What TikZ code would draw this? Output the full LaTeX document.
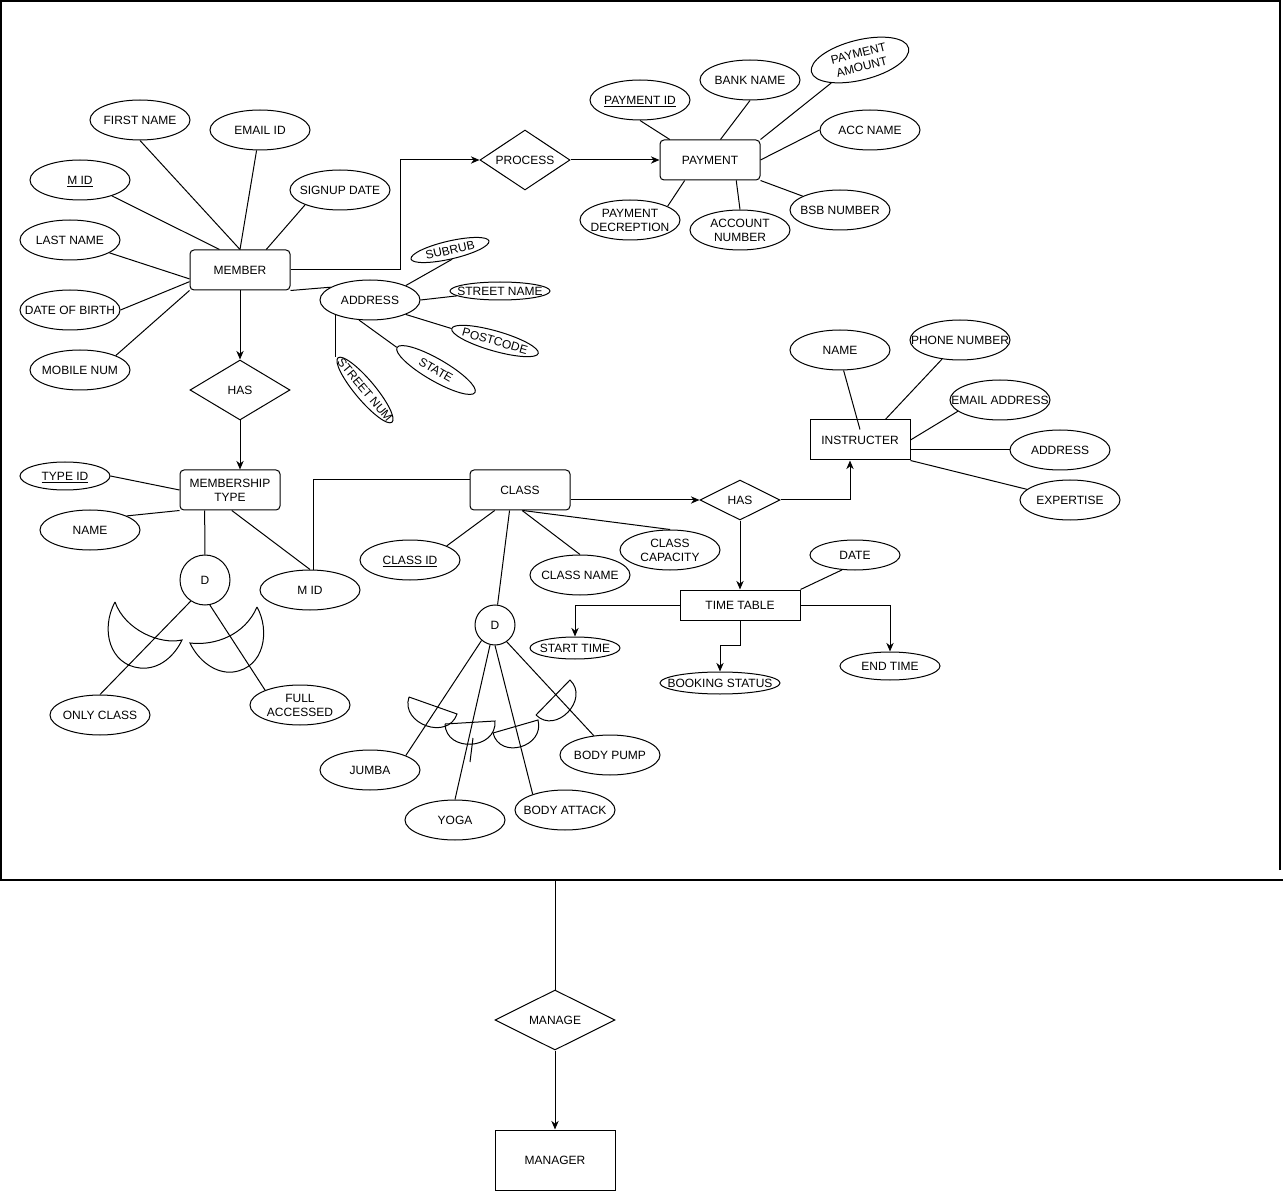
\documentclass[tikz,border=0pt]{standalone}
\usepackage{fontspec}
\setmainfont{Liberation Sans}
\usetikzlibrary{shapes.geometric, arrows.meta}
\newcommand{\atext}[1]{\makebox[0pt]{\raisebox{-3.35pt}[0pt][0pt]{\begin{tabular}{@{}c@{}}#1\end{tabular}}}}

\begin{document}
\begin{tikzpicture}[x=0.75pt, y=-0.75pt, line width=0.75pt,
  >={Stealth[length=6.5pt, width=5.5pt]},
  font=\fontsize{9}{10.5}\selectfont,
  entity/.style={draw, rectangle, rounded corners=3pt, minimum width=75pt,
    minimum height=30pt, inner sep=0pt, align=center},
  entsq/.style={draw, rectangle, minimum width=75pt, minimum height=30pt,
    inner sep=0pt, align=center},
  relation/.style={draw, diamond, aspect=2, minimum width=75pt,
    minimum height=45pt, inner sep=0pt},
  attr/.style={draw, ellipse, minimum width=75pt, minimum height=30pt, inner sep=0pt},
  disj/.style={draw, circle, inner sep=0pt}]
  \useasboundingbox (0,0) rectangle (1283,1191);
  % Outer frame
  \draw[line width=1.5pt] (1280,870) -- (1280,1) -- (1,1) -- (1,880) -- (1283,880);

  % Member and its attributes
  \node[entity] (member) at (240,270) {MEMBER};
  \node[attr] (fname) at (140,120) {\atext{FIRST NAME}};
  \node[attr] (email) at (260,130) {\atext{EMAIL ID}};
  \node[attr] (mid) at (80,180) {\atext{\underline{M ID}}};
  \node[attr] (signup) at (340,190) {\atext{SIGNUP DATE}};
  \node[attr] (lname) at (70,240) {\atext{LAST NAME}};
  \node[attr] (dob) at (70,310) {\atext{DATE OF BIRTH}};
  \node[attr] (mobile) at (80,370) {\atext{MOBILE NUM}};
  \node[attr] (addr) at (370,300) {\atext{ADDRESS}};
  \draw (member.north) -- (fname.south);
  \draw (member.north) -- (email);
  \draw (member.135) -- (mid);
  \draw (member.38) -- (signup.-157);
  \draw (member.190) -- (lname);
  \draw (member.193) -- (dob.east);
  \draw (member.south west) -- (mobile.22);
  \draw (member.south east) -- (addr.162);

  % Address parts
  \node[attr, minimum width=60pt, minimum height=13.5pt, rotate=13] (suburb) at (450,250) {\atext{SUBRUB}};
  \node[attr, minimum height=13.5pt] (stname) at (500,291) {\atext{STREET NAME}};
  \node[attr, minimum width=67.5pt, minimum height=15pt, rotate=-16] (postcode) at (495,341) {\atext{POSTCODE}};
  \node[attr, minimum width=67.5pt, minimum height=16.5pt, rotate=-30] (state) at (436,370) {\atext{STATE}};
  \node[attr, minimum width=63pt, minimum height=15pt, rotate=-50] (stnum) at (365,390) {\atext{STREET NUM}};
  \draw (addr.22) -- (suburb.south);
  \draw (addr.east) -- (stname);
  \draw (addr.-22) -- (postcode.west);
  \draw (addr.-119) -- (state.west);
  \draw (addr.-157) -- (addr.-157 |- stnum.west);

  % Process and payment
  \node[relation, minimum width=67.5pt] (process) at (525,160) {PROCESS};
  \node[entity] (payment) at (710,160) {PAYMENT};
  \node[attr] (payid) at (640,100) {\atext{\underline{PAYMENT ID}}};
  \node[attr] (bank) at (750,80) {\atext{BANK NAME}};
  \node[attr, rotate=14] (pamount) at (860,60) {\atext{PAYMENT\\AMOUNT}};
  \node[attr] (accname) at (870,130) {\atext{ACC NAME}};
  \node[attr] (bsb) at (840,210) {\atext{BSB NUMBER}};
  \node[attr] (accnum) at (740,230) {\atext{ACCOUNT\\NUMBER}};
  \node[attr] (pdesc) at (630,220) {\atext{PAYMENT\\DECREPTION}};
  \draw[->] (member.east) -- ++(110,0) |- (process.west);
  \draw[->] (process) -- (payment);
  \draw (payment.153) -- (payid.south);
  \draw (payment.63) -- (bank.south);
  \draw (payment.north east) -- (pamount);
  \draw (payment.east) -- (accname.west);
  \draw (payment.south east) -- (bsb);
  \draw (payment.-38) -- (accnum.north);
  \draw (payment.-141) -- (pdesc.20);

  % Membership type
  \node[relation] (hasm) at (240,390) {HAS};
  \node[entity] (mtype) at (230,490) {MEMBERSHIP\\TYPE};
  \node[attr, minimum width=67.5pt, minimum height=21pt] (typeid) at (65,476) {\atext{\underline{TYPE ID}}};
  \node[attr] (mname) at (90,530) {\atext{NAME}};
  \node[disj, minimum size=37.5pt] (d1) at (205,580) {D};
  \node[attr] (mid2) at (310,590) {\atext{M ID}};
  \node[attr] (oclass) at (100,715) {\atext{ONLY CLASS}};
  \node[attr] (facc) at (300,705) {\atext{FULL\\ACCESSED}};
  \draw[->] (member) -- (hasm);
  \draw[->] (hasm.south) -- (hasm.south |- mtype.north);
  \draw (typeid.east) -- (mtype.west);
  \draw (mname.21) -- (mtype.south west);
  \draw (mtype.-141) -- (d1);
  \draw (mtype.-85) -- (mid2.north);
  \draw (d1.-124) -- (oclass.north);
  \draw (d1.-79) -- (facc.157);
  % subset marks
  \draw (115,602) .. controls (100,630) and (110,665) .. (140,668)
    .. controls (160,670) and (175,655) .. (182,640)
    .. controls (160,645) and (125,630) .. (115,602);
  \draw (257,607) .. controls (270,630) and (265,668) .. (233,672)
    .. controls (215,674) and (198,660) .. (190,643)
    .. controls (215,646) and (245,635) .. (257,607);

  % Class
  \node[entity] (class) at (520,490) {CLASS};
  \node[attr] (classid) at (410,560) {\atext{\underline{CLASS ID}}};
  \node[attr] (cname) at (580,575) {\atext{CLASS NAME}};
  \node[attr] (ccap) at (670,550) {\atext{CLASS\\CAPACITY}};
  \node[disj, minimum size=30pt] (d2) at (495,625) {D};
  \node[attr] (jumba) at (370,770) {\atext{JUMBA}};
  \node[attr] (yoga) at (455,820) {\atext{YOGA}};
  \node[attr] (battack) at (565,810) {\atext{BODY ATTACK}};
  \node[attr] (bpump) at (610,755) {\atext{BODY PUMP}};
  \draw (mid2.80) |- ([yshift=7.5pt]class.west);
  \draw (class.-141) -- (classid.21);
  \draw (class.-84) -- (cname.north);
  \draw (class.-82) -- (ccap.north);
  \draw (class.-117) -- (d2);
  \draw (d2.-131) -- (jumba.22);
  \draw (d2.-104) -- (yoga.north);
  \draw (d2.south) -- (battack.154);
  \draw (d2.-55) -- (bpump.130);
  \draw (473,738) -- (470,762);
  % subset marks
  \draw (409,697) -- (457,714) .. controls (448,741) and (400,724) .. (409,697);
  \draw (445,724) -- (495,721) .. controls (497,750) and (446,753) .. (445,724);
  \draw (493,733) -- (538,720) .. controls (545,747) and (500,760) .. (493,733);
  \draw (536,715) -- (570,680) .. controls (590,699) and (556,735) .. (536,715);

  % Instructer
  \node[relation, minimum width=60pt, minimum height=30pt] (hasc) at (740,500) {HAS};
  \node[entsq] (instr) at (860,440) {INSTRUCTER};
  \node[attr] (iname) at (840,350) {\atext{NAME}};
  \node[attr] (phone) at (960,340) {\atext{PHONE NUMBER}};
  \node[attr] (iemail) at (1000,400) {\atext{EMAIL ADDRESS}};
  \node[attr] (iaddr) at (1060,450) {\atext{ADDRESS}};
  \node[attr] (expert) at (1070,500) {\atext{EXPERTISE}};
  \draw[->] ([yshift=-7.5pt]class.east) -- (hasc.west);
  \draw[->] (hasc.east) -| ([xshift=-7.5pt]instr.south);
  \draw (iname.-80) -- ([yshift=-7.5pt]instr.north);
  \draw (instr.39) -- (phone);
  \draw (instr.east) -- (iemail.-165);
  \draw ([yshift=-7.5pt]instr.east) -- (iaddr.west);
  \draw (instr.south east) -- (expert);

  % Time table
  \node[entsq, minimum width=90pt, minimum height=22.5pt] (ttable) at (740,605) {TIME TABLE};
  \node[attr, minimum width=67.5pt, minimum height=22.5pt] (date) at (855,555) {\atext{DATE}};
  \node[attr, minimum width=67.5pt, minimum height=16.5pt] (start) at (575,648) {\atext{START TIME}};
  \node[attr, minimum width=90pt, minimum height=16.5pt] (booking) at (720,683) {\atext{BOOKING STATUS}};
  \node[attr, minimum height=21pt] (endt) at (890,666) {\atext{END TIME}};
  \draw[->] (hasc) -- (ttable);
  \draw (ttable.north east) -- (date.-131);
  \draw[->] (ttable.west) -| (start.north);
  \draw[->] (ttable.south) -- ++(0,25) -| (booking.north);
  \draw[->] (ttable.east) -| (endt.north);

  % Manager
  \coordinate (fbot) at (555,880);
  \node[relation, minimum width=90pt] (manage) at (555,1020) {MANAGE};
  \node[entsq, minimum width=90pt, minimum height=45pt] (manager) at (555,1160) {MANAGER};
  \draw (fbot) -- (manage);
  \draw[->] (manage) -- (manager);
\end{tikzpicture}
\end{document}
